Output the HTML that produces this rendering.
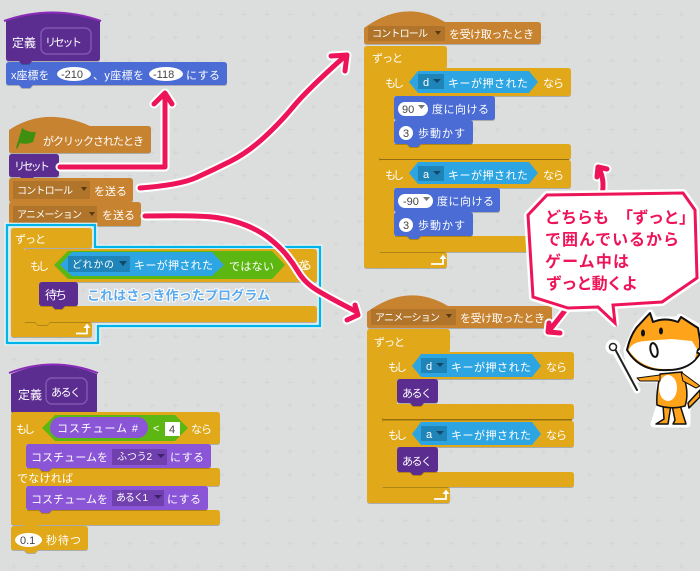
<!DOCTYPE html>
<html><head><meta charset="utf-8"><style>
html,body{margin:0;padding:0;background:#dcdede}
svg{display:block}
text{font-family:"Liberation Sans","Noto Sans CJK JP",sans-serif;font-size:11px;fill:#fff}
.d{font-size:10px}
.v{fill:#444;font-size:11px}
.s{filter:drop-shadow(0 1px 0 rgba(0,0,0,.22))}
.o{fill:#e1a91a}.b{fill:#4a6cd4}.p{fill:#5c2d91}.l{fill:#8a55d7}.r{fill:#c88330}
.dr{fill:#b0752a}.tri{fill:#5a3a10}
.c{font-size:16px;font-weight:bold;fill:#ee1459}
.ar{fill:none;stroke:#fff;stroke-width:1.800}
</style></head><body>
<svg width="700" height="571" viewBox="0 0 700 571" xmlns="http://www.w3.org/2000/svg">
<defs><pattern id="g" width="23" height="23" patternUnits="userSpaceOnUse" x="3" y="3"><path d="M11 9v5M9 11.500h5" stroke="#d3d5d5" stroke-width="1"/></pattern></defs>
<rect width="700" height="571" fill="#dcdede"/><rect width="700" height="571" fill="url(#g)"/>

<!-- define reset -->
<g class="s"><path class="b" d="M9 62H224q3 0 3 3V82q0 3-3 3H33l-3 3H22l-3-3H9q-3 0-3-3V65q0-3 3-3Z"/></g>
<ellipse cx="74" cy="74" rx="17" ry="7" fill="#fff"/><ellipse cx="166" cy="74" rx="17" ry="7" fill="#fff"/>
<text x="11" y="79">x座標を</text><text class="v" x="61" y="78">-210</text><text x="93" y="79" textLength="51">、y座標を</text><text class="v" x="153" y="78">-118</text><text x="186" y="79" textLength="34">にする</text>
<g class="s"><path class="p" d="M6 21Q52 4 100 21V58q0 3-3 3H32l-3 3H22l-3-3H9q-3 0-3-3Z"/></g>
<path d="M4 21Q52 4 101 21" fill="none" stroke="#8a2cb8" stroke-width="2"/>
<rect x="41" y="28" width="50" height="26" rx="6" fill="none" stroke="#7e57b0" stroke-width="1.500"/>
<text x="12" y="47" style="font-size:12px">定義</text><text x="45" y="46" textLength="37">リセット</text>

<!-- flag stack -->
<g class="s"><path class="r" d="M9 150V130Q45 106 90 126H148q3 0 3 3V150q0 3-3 3H12q-3 0-3-3Z"/></g>
<path d="M16 148L22 128Q29 133 36 132L33 142Q26 145 20 143L17 149Z" fill="#3f8f10"/>
<text x="43" y="145" textLength="101">がクリックされたとき</text>
<g class="s"><path class="p" d="M12 154H56q3 0 3 3V174q0 3-3 3H34l-3 3H23l-3-3H12q-3 0-3-3V157q0-3 3-3Z"/></g>
<text x="14" y="170" textLength="36">リセット</text>
<g class="s"><path class="r" d="M12 178H130q3 0 3 3V199q0 3-3 3H36l-3 3H25l-3-3H12q-3 0-3-3V181q0-3 3-3Z"/></g>
<rect class="dr" x="13" y="181" width="77" height="18"/><polygon class="tri" points="81,187 87,187 84,191"/>
<text class="d" x="17" y="194" textLength="56">コントロール</text><text x="94" y="195" textLength="33">を送る</text>
<g class="s"><path class="r" d="M12 202H138q3 0 3 3V223q0 3-3 3H12q-3 0-3-3V205q0-3 3-3Z"/></g>
<rect class="dr" x="13" y="206" width="84" height="17"/><polygon class="tri" points="89,212 95,212 92,216"/>
<text class="d" x="17" y="218" textLength="65">アニメーション</text><text x="102" y="219" textLength="33">を送る</text>

<!-- cyan outline -->
<path d="M7 225H95V247H320V326H98V343H7Z" fill="none" stroke="#fff" stroke-width="4.500"/>
<path d="M7 225H95V247H320V326H98V343H7Z" fill="none" stroke="#00b4e8" stroke-width="2.500"/>
<g class="s"><path class="o" d="M14 228H89q3 0 3 3V245q0 3-3 3H24V322H89q3 0 3 3V334q0 3-3 3H14q-3 0-3-3V231q0-3 3-3Z"/></g>
<text x="15" y="243" textLength="31">ずっと</text>
<g class="s"><path class="o" d="M26 249H314q3 0 3 3V279q0 3-3 3H52l-3 3H41l-2-3V306H314q3 0 3 3V319q0 3-3 3H50l-3 3H38l-3-3H26q-2 0-2-2V251q0-2 2-2Z"/></g>
<text x="30" y="270" textLength="19">もし</text><text x="298" y="269" textLength="14">なら</text>
<polygon points="54,265 68,251 272,251 285,265 272,279 68,279" fill="#5cb712"/>
<polygon points="60,265 72,252 212,252 224,265 212,276 72,276" fill="#2ca5e2"/>
<rect x="68" y="256" width="62" height="16" fill="#1f84b8"/><polygon points="119,261 127,261 123,266" fill="#12496b"/>
<text class="d" x="72" y="268" textLength="42">どれかの</text><text x="134" y="269" textLength="79">キーが押された</text><text x="229" y="270" textLength="45">ではない</text>
<g class="s"><path class="p" d="M42 282H75q3 0 3 3V303q0 3-3 3H65l-3 3H55l-3-3H42q-3 0-3-3V285q0-3 3-3Z"/></g>
<text x="45" y="299" style="font-size:12px" textLength="22">待ち</text>
<text x="87" y="300" textLength="183" style="font-size:13px;font-weight:bold;fill:#5aa9ee;stroke:#fff;stroke-width:2px;paint-order:stroke">これはさっき作ったプログラム</text>
<path class="ar" d="M76 333.500H87V327"/><path d="M83.500 328L87 323.500L90.500 328Z" fill="#fff"/>

<!-- define walk -->
<g class="s"><path class="p" d="M11 374Q53 356 97 374V410q0 3-3 3H38l-3 3H27l-3-3H14q-3 0-3-3Z"/></g>
<path d="M9 373Q53 356 98 373" fill="none" stroke="#8a2cb8" stroke-width="2"/>
<rect x="46" y="378" width="41" height="26" rx="6" fill="none" stroke="#7e57b0" stroke-width="1.500"/>
<text x="18" y="399" style="font-size:12px">定義</text><text x="51" y="396" textLength="30">あるく</text>
<g class="s"><path class="o" d="M14 412H217q3 0 3 3V441q0 3-3 3H26V468H217q3 0 3 3V483q0 3-3 3H26V510H217q3 0 3 3V522q0 3-3 3H38l-3 3H27l-3-3H14q-3 0-3-3V415q0-3 3-3Z"/></g>
<text x="16" y="433" textLength="19">もし</text><text x="191" y="433" textLength="21">なら</text><text x="17" y="482" textLength="56">でなければ</text>
<polygon points="42,428 55,415 175,415 188,428 175,441 55,441" fill="#5cb712"/>
<rect x="50" y="417" width="98" height="21" rx="10.500" fill="#8a55d7"/>
<text x="57" y="432" textLength="81">コスチューム #</text><text x="153" y="432">&lt;</text>
<rect x="165" y="422" width="15" height="14" fill="#fff"/><text class="v" x="169" y="433">4</text>
<g class="s"><path class="l" d="M29 444H208q3 0 3 3V465q0 3-3 3H52l-3 3H42l-3-3H29q-3 0-3-3V447q0-3 3-3Z"/></g>
<rect x="112" y="449" width="55" height="16" fill="#7040af"/><polygon points="157,454 165,454 161,458" fill="#3c2268"/>
<text x="31" y="461" textLength="77">コスチュームを</text><text class="d" x="117" y="460" textLength="35">ふつう2</text><text x="170" y="461" textLength="34">にする</text>
<g class="s"><path class="l" d="M29 486H205q3 0 3 3V507q0 3-3 3H52l-3 3H42l-3-3H29q-3 0-3-3V489q0-3 3-3Z"/></g>
<rect x="112" y="490" width="52" height="16" fill="#7040af"/><polygon points="154,495 162,495 158,499" fill="#3c2268"/>
<text x="31" y="503" textLength="77">コスチュームを</text><text class="d" x="116" y="501" textLength="32">あるく1</text><text x="167" y="503" textLength="34">にする</text>
<g class="s"><path class="o" d="M14 526H85q3 0 3 3V547q0 3-3 3H38l-3 3H27l-3-3H14q-3 0-3-3V529q0-3 3-3Z"/></g>
<ellipse cx="28.500" cy="540" rx="13.500" ry="7" fill="#fff"/><text class="v" x="20" y="544">0.1</text><text x="46" y="544" textLength="35">秒待つ</text>

<!-- control receive -->
<g class="s"><path class="o" d="M367 46H444q3 0 3 3V65q0 3-3 3H379V252H444q3 0 3 3V265q0 3-3 3H367q-3 0-3-3V49q0-3 3-3Z"/></g>
<g class="s"><path class="r" d="M364 28Q405-2 445 22H538q3 0 3 3V41q0 3-3 3H367q-3 0-3-3Z"/></g>
<rect class="dr" x="368" y="26" width="77" height="15"/><polygon class="tri" points="435,31 441,31 438,35"/>
<text class="d" x="372" y="37" textLength="56">コントロール</text><text x="449" y="38" textLength="85">を受け取ったとき</text>
<text x="372" y="62" textLength="31">ずっと</text>
<rect x="379" y="156" width="190" height="7" fill="#bd8e15"/>
<g class="s"><path class="o" d="M381 68H568q3 0 3 3V93q0 3-3 3H394V144H568q3 0 3 3V156q0 3-3 3H381q-2 0-2-2V70q0-2 2-2Z"/></g>
<g class="s"><path class="o" d="M381 160H568q3 0 3 3V185q0 3-3 3H394V236H568q3 0 3 3V249q0 3-3 3H381q-2 0-2-2V162q0-2 2-2Z"/></g>
<text x="385" y="87" textLength="19">もし</text><text x="543" y="87" textLength="21">なら</text>
<polygon points="409,82 418,71 529,71 538,82 529,93 418,93" fill="#2ca5e2"/><rect x="418" y="74" width="26" height="15" fill="#1f84b8"/><polygon points="433,79 441,79 437,83" fill="#12496b"/>
<text x="423" y="86">d</text><text x="448" y="87" textLength="80">キーが押された</text>
<text x="385" y="179" textLength="19">もし</text><text x="543" y="179" textLength="21">なら</text>
<polygon points="409,173 418,162 529,162 538,173 529,184 418,184" fill="#2ca5e2"/><rect x="418" y="166" width="26" height="15" fill="#1f84b8"/><polygon points="433,171 441,171 437,175" fill="#12496b"/>
<text x="423" y="178">a</text><text x="448" y="179" textLength="80">キーが押された</text>
<g class="s"><path class="b" d="M397 96H492q3 0 3 3V117q0 3-3 3H397q-3 0-3-3V99q0-3 3-3Z"/><path class="b" d="M397 120H470q3 0 3 3V141q0 3-3 3H421l-3 3H410l-3-3H397q-3 0-3-3V123q0-3 3-3Z"/></g>
<rect x="398" y="102" width="30" height="14" rx="7" fill="#fff"/><text class="v" x="402" y="113">90</text><polygon points="418,105 425,105 421.500,109" fill="#777"/>
<text x="432" y="113" textLength="57">度に向ける</text>
<circle cx="406" cy="133" r="7" fill="#fff"/><text class="v" x="403" y="137">3</text><text x="418" y="137" textLength="47">歩動かす</text>
<g class="s"><path class="b" d="M397 188H497q3 0 3 3V209q0 3-3 3H397q-3 0-3-3V191q0-3 3-3Z"/><path class="b" d="M397 212H470q3 0 3 3V233q0 3-3 3H421l-3 3H410l-3-3H397q-3 0-3-3V215q0-3 3-3Z"/></g>
<rect x="398" y="194" width="35" height="14" rx="7" fill="#fff"/><text class="v" x="403" y="205">-90</text><polygon points="423,197 430,197 426.500,201" fill="#777"/>
<text x="437" y="205" textLength="57">度に向ける</text>
<circle cx="406" cy="225" r="7" fill="#fff"/><text class="v" x="403" y="229">3</text><text x="418" y="229" textLength="47">歩動かす</text>
<path class="ar" d="M431 264H443V258"/><path d="M439.500 259L443 254.500L446.500 259Z" fill="#fff"/>

<!-- animation receive -->
<g class="s"><path class="o" d="M370 329H447q3 0 3 3V349q0 3-3 3H382V487H447q3 0 3 3V500q0 3-3 3H370q-3 0-3-3V332q0-3 3-3Z"/></g>
<g class="s"><path class="r" d="M367 312Q408 282 448 306H549q3 0 3 3V325q0 3-3 3H370q-3 0-3-3Z"/></g>
<rect class="dr" x="371" y="309" width="85" height="16"/><polygon class="tri" points="446,314 452,314 449,318"/>
<text class="d" x="375" y="321" textLength="65">アニメーション</text><text x="460" y="322" textLength="85">を受け取ったとき</text>
<text x="374" y="346" textLength="31">ずっと</text>
<rect x="382" y="416" width="190" height="8" fill="#bd8e15"/>
<g class="s"><path class="o" d="M384 352H571q3 0 3 3V376q0 3-3 3H397V404H571q3 0 3 3V416q0 3-3 3H384q-2 0-2-2V354q0-2 2-2Z"/></g>
<g class="s"><path class="o" d="M384 421H571q3 0 3 3V444q0 3-3 3H397V472H571q3 0 3 3V484q0 3-3 3H384q-2 0-2-2V423q0-2 2-2Z"/></g>
<text x="388" y="371" textLength="19">もし</text><text x="546" y="371" textLength="21">なら</text>
<polygon points="412,366 421,354 532,354 541,366 532,377 421,377" fill="#2ca5e2"/><rect x="421" y="358" width="26" height="15" fill="#1f84b8"/><polygon points="436,363 444,363 440,367" fill="#12496b"/>
<text x="426" y="370">d</text><text x="451" y="371" textLength="80">キーが押された</text>
<text x="388" y="439" textLength="19">もし</text><text x="546" y="439" textLength="21">なら</text>
<polygon points="412,434 421,422 532,422 541,434 532,445 421,445" fill="#2ca5e2"/><rect x="421" y="426" width="26" height="15" fill="#1f84b8"/><polygon points="436,431 444,431 440,435" fill="#12496b"/>
<text x="426" y="438">a</text><text x="451" y="439" textLength="80">キーが押された</text>
<g class="s"><path class="p" d="M400 379H435q3 0 3 3V400q0 3-3 3H424l-3 3H413l-3-3H400q-3 0-3-3V382q0-3 3-3Z"/><path class="p" d="M400 447H435q3 0 3 3V469q0 3-3 3H424l-3 3H413l-3-3H400q-3 0-3-3V450q0-3 3-3Z"/></g>
<text x="402" y="397" textLength="30">あるく</text><text x="402" y="465" textLength="30">あるく</text>
<path class="ar" d="M434 499H446V493"/><path d="M442.500 494L446 489.500L449.500 494Z" fill="#fff"/>

<!-- arrows -->
<g fill="none" stroke-linecap="round" stroke-linejoin="round">
<g stroke="#fff" stroke-width="9">
<path d="M60 167H165V94M154 104L165 93L172 104"/>
<path d="M140 188Q180 185 196.500 177.500Q213 170 230 161.500Q247 153 263.500 138Q280 123 293.500 106.500Q307 90 344 57M331 56L347 55L345 71"/>
<path d="M145 216Q200 215 216.500 217.500Q233 220 246.500 225.500Q260 231 270 239Q280 247 286.500 255Q293 263 298 271.500Q303 280 311.500 286.500Q320 293 357 312M355 305L358 315L347 320"/>
<path d="M602 195C604 185 603 175 598 167M597 177L598 167L607 169"/>
<path d="M567 308L549 331M549 323L548 332L560 333"/>
</g>
<g stroke="#ee1459" stroke-width="5">
<path d="M60 167H165V94M154 104L165 93L172 104"/>
<path d="M140 188Q180 185 196.500 177.500Q213 170 230 161.500Q247 153 263.500 138Q280 123 293.500 106.500Q307 90 344 57M331 56L347 55L345 71"/>
<path d="M145 216Q200 215 216.500 217.500Q233 220 246.500 225.500Q260 231 270 239Q280 247 286.500 255Q293 263 298 271.500Q303 280 311.500 286.500Q320 293 357 312M355 305L358 315L347 320"/>
<path d="M602 195C604 185 603 175 598 167M597 177L598 167L607 169"/>
<path d="M567 308L549 331M549 323L548 332L560 333"/>
</g></g>

<!-- callout -->
<path d="M528 215L547 195L683 193L695 210L697 278L662 302L613 305L615 323L598 307L568 308L533 297Z" fill="#fff" stroke="#fff" stroke-width="8" stroke-linejoin="round"/>
<path d="M528 215L547 195L683 193L695 210L697 278L662 302L613 305L615 323L598 307L568 308L533 297Z" fill="#fff" stroke="#ee1459" stroke-width="3"/>
<text class="c" x="545" y="223" textLength="64">どちらも</text><text class="c" x="617" y="223" textLength="78">「ずっと」</text>
<text class="c" x="545" y="245" textLength="134">で囲んでいるから</text>
<text class="c" x="545" y="267" textLength="84">ゲーム中は</text>
<text class="c" x="546" y="289" textLength="92">ずっと動くよ</text>

<!-- cat -->
<g stroke-linejoin="round" stroke-linecap="round">
<g stroke="#fff" stroke-width="7" fill="#fff">
<path d="M613 347L637 390" fill="none"/><circle cx="613" cy="347" r="4"/>
<path d="M627 350L637 327L650 313L654 320H678L680 317L700 328V395L687 404L687 424H654L660 405L660 379H636L630 370Z"/>
</g>
<path d="M615 349L637 390" stroke="#222" stroke-width="2" fill="none"/><circle cx="613" cy="347" r="3.500" fill="#fff" stroke="#222" stroke-width="1.500"/>
<path d="M688 403L700 390V397L689 408Z" fill="#ffa31a" stroke="#111" stroke-width="1.500"/>
<path d="M663 405L664 419L656 424H668L671 405ZM672 405L675 420L673 424H686L680 405Z" fill="#ffa31a" stroke="#111" stroke-width="1.500"/>
<path d="M660 374Q656 395 657 405Q670 410 685 406Q690 392 682 372Z" fill="#ffa31a" stroke="#111" stroke-width="1.500"/>
<ellipse cx="668" cy="388" rx="9" ry="13" fill="#fff"/>
<path d="M637 378L660 375L660 381L640 381Z" fill="#ffa31a" stroke="#111" stroke-width="1"/>
<path d="M681 372L700 386L696 388L683 381Z" fill="#ffa31a" stroke="#111" stroke-width="1"/>
<path d="M627 350Q630 336 637 327L650 313L653 322Q665 317 678 322L681 317L698 328L700 340V348L696 352L700 354L695 360Q685 370 668 370Q640 372 627 350Z" fill="#ffa31a" stroke="#111" stroke-width="2"/>
<path d="M628.500 350Q632 342 645 341L672 339L692 341L697 349L695 359Q685 369 668 369Q642 370 628.500 350Z" fill="#fff"/>
<ellipse cx="643" cy="333" rx="2" ry="3.500" fill="#111"/><ellipse cx="661" cy="331" rx="2" ry="3.500" fill="#111"/>
<ellipse cx="654" cy="350" rx="3.500" ry="7" transform="rotate(-12 654 350)" fill="#fff" stroke="#111" stroke-width="2"/>
</g>
</svg>
</body></html>
